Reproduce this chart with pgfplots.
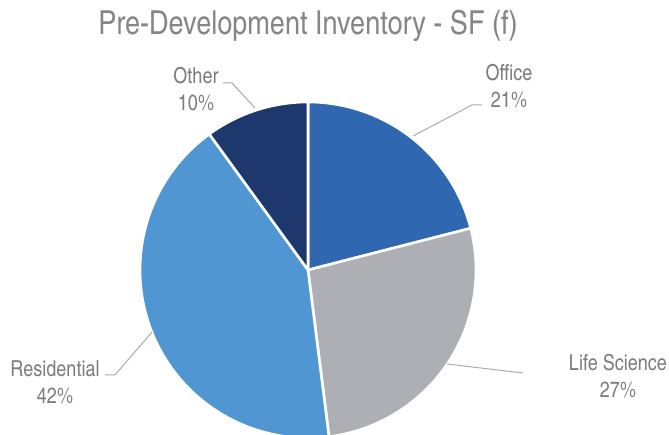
\documentclass[border=0pt]{standalone}
\usepackage{fontspec}
\setmainfont{texgyreheroscn-regular.otf}
\usepackage{pgfplots}
\usepackage{pgfplotstable}
\pgfplotsset{compat=1.18}
\definecolor{cOffice}{RGB}{47,103,177}
\definecolor{cLife}{RGB}{174,175,180}
\definecolor{cRes}{RGB}{80,150,210}
\definecolor{cOther}{RGB}{28,56,108}
\definecolor{txtgray}{RGB}{125,125,125}
\definecolor{titlegray}{RGB}{134,134,134}
\definecolor{leadgray}{RGB}{170,170,170}
\pgfplotstableread{
name value color
Office 21 cOffice
LifeScience 27 cLife
Residential 42 cRes
Other 10 cOther
}\piedata
\begin{document}
\begin{tikzpicture}
\useasboundingbox (0,0) rectangle (669bp,435bp);
\begin{axis}[at={(0,0)}, anchor=south west, width=669bp, height=435bp, scale only axis,
  xmin=-308, xmax=361, ymin=-165, ymax=270, hide axis]
\def\cum{0}
\pgfplotsforeachungrouped \i in {0,1,2,3}{%
  \pgfplotstablegetelem{\i}{value}\of{\piedata}\let\v\pgfplotsretval
  \pgfplotstablegetelem{\i}{color}\of{\piedata}\let\c\pgfplotsretval
  \pgfmathsetmacro{\angA}{90-3.6*(\cum+\v)}
  \pgfmathsetmacro{\angB}{90-3.6*\cum}
  \pgfmathsetmacro{\cum}{\cum+\v}
  \edef\temp{\noexpand\addplot[fill=\c, draw=white, line width=2.6bp, line join=round, domain=\angA:\angB, samples=90] ({168*cos(x)},{168*sin(x)}) -- (axis cs:0,0) -- cycle;}
  \temp
}
% leader lines
\draw[leadgray, line width=1bp] (axis cs:105,134) -- (axis cs:164,165) -- (axis cs:174,165);
\draw[leadgray, line width=1bp] (axis cs:-53,162) -- (axis cs:-76,187) -- (axis cs:-85,187);
\draw[leadgray, line width=1bp] (axis cs:-156,-62) -- (axis cs:-193,-105) -- (axis cs:-203,-105);
\draw[leadgray, line width=1bp] (axis cs:139,-94) -- (axis cs:215,-103);
% labels
\tikzset{lab/.style={text=txtgray, font=\fontsize{22bp}{27bp}\selectfont, align=center, inner sep=0pt}}
\node[lab] at (axis cs:201,184) {Office\\21\%};
\node[lab] at (axis cs:-112,181) {Other\\10\%};
\node[lab] at (axis cs:-253,-112) {Residential\\42\%};
\node[lab] at (axis cs:310,-106) {Life Science\\27\%};
% title
\node[text=titlegray, font=\fontsize{33bp}{37bp}\selectfont, anchor=base, inner sep=0pt] at (axis cs:0,235) {Pre-Development Inventory - SF (f)};
\end{axis}
\end{tikzpicture}
\end{document}
